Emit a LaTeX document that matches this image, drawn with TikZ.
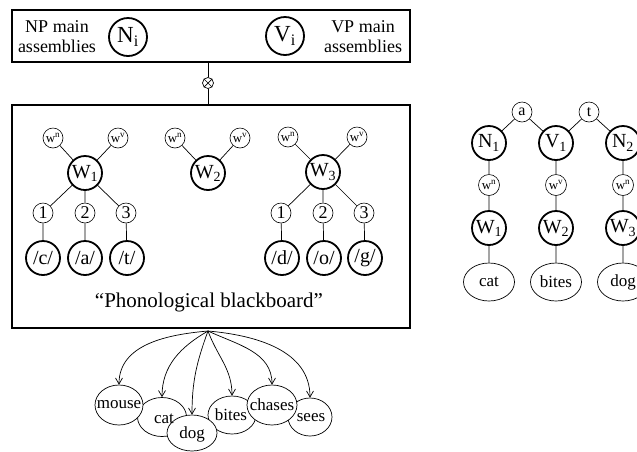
\documentclass[tikz,border=0pt]{standalone}
\usepackage{fontspec}
\setmainfont{Liberation Serif}
\usetikzlibrary{shapes.geometric,arrows.meta}
\tikzset{
  bigc/.style={circle,draw,line width=1.8pt,minimum size=34pt,inner sep=0pt,font=\fontsize{20}{20}\selectfont},
  mainc/.style={circle,draw,line width=1.8pt,minimum size=38pt,inner sep=0pt,font=\fontsize{23}{23}\selectfont},
  smc/.style={circle,draw,line width=0.6pt,minimum size=20pt,inner sep=0pt,font=\fontsize{13}{13}\selectfont},
  numc/.style={circle,draw,line width=0.6pt,minimum size=20pt,inner sep=0pt,font=\fontsize{18}{18}\selectfont},
  wordell/.style={ellipse,draw,fill=white,line width=0.7pt,minimum width=49pt,minimum height=39pt,inner sep=0pt},
  wtxt/.style={inner sep=0pt,font=\fontsize{17}{17}\selectfont},
  lab/.style={align=center,font=\fontsize{18}{20}\selectfont,inner sep=0pt},
  con/.style={line width=0.7pt},
  boxl/.style={draw,line width=1.2pt},
  arr/.style={line width=0.7pt,-{Straight Barb[length=6pt,width=7pt]}}
}
\begin{document}
\begin{tikzpicture}[x=1pt,y=-1pt]
\useasboundingbox (0,0) rectangle (637,451);
% top box
\draw[boxl] (12,10) rectangle (410,62);
\node[lab] (np) at (57,37) {NP main\\assemblies};
\node[mainc] (Ni) at (128,37) {N\textsubscript{i}};
\node[mainc] (Vi) at (285,36) {V\textsubscript{i}};
\node[lab] (vp) at (363,37) {VP main\\assemblies};
% lower box
\draw[boxl] (12,105) rectangle (410,328);
\coordinate (tb) at (208,62);
\coordinate (lb) at (208,105);
\node[circle,draw,line width=0.7pt,minimum size=11pt,inner sep=0pt] (ox) at (208,83) {};
\draw[line width=0.7pt] (ox.45) -- (ox.225) (ox.135) -- (ox.315);
\draw[line width=1pt] (tb) -- (ox) -- (lb);
% W1 group
\node[smc] (n1) at (53,138) {w\textsuperscript{n}};
\node[smc] (v1) at (118,138) {w\textsuperscript{v}};
\node[bigc] (W1) at (85,173) {W\textsubscript{1}};
\node[numc] (a1) at (43,213) {1};
\node[numc] (a2) at (85,213) {2};
\node[numc] (a3) at (126,213) {3};
\node[bigc] (pc) at (43,258) {/c/};
\node[bigc] (pa) at (85,258) {/a/};
\node[bigc] (pt) at (127,258) {/t/};
\draw[con] (n1) -- (W1) (v1) -- (W1) (W1) -- (a1) (W1) -- (a2) (W1) -- (a3)
  (a1) -- (pc) (a2) -- (pa) (a3) -- (pt);
% W2 group
\node[smc] (n2) at (175,138) {w\textsuperscript{n}};
\node[smc] (v2) at (240,138) {w\textsuperscript{v}};
\node[bigc] (W2) at (208,173) {W\textsubscript{2}};
\draw[con] (n2) -- (W2) (v2) -- (W2);
% W3 group
\node[smc] (n3) at (288,137) {w\textsuperscript{n}};
\node[smc] (v3) at (357,137) {w\textsuperscript{v}};
\node[bigc] (W3) at (323,172) {W\textsubscript{3}};
\node[numc] (b1) at (281,213) {1};
\node[numc] (b2) at (323,213) {2};
\node[numc] (b3) at (364,213) {3};
\node[bigc] (pd) at (282,258) {/d/};
\node[bigc] (po) at (324,258) {/o/};
\node[bigc] (pg) at (365,258) {/g/};
\draw[con] (n3) -- (W3) (v3) -- (W3) (W3) -- (b1) (W3) -- (b2) (W3) -- (b3)
  (b1) -- (pd) (b2) -- (po) (b3) -- (pg);
\node[font=\fontsize{21}{21}\selectfont,inner sep=0pt] (pb) at (209,302) {“Phonological blackboard”};
% word ellipses
\node[wordell] (cat) at (162,417) {};
\node[wordell,minimum width=48pt,minimum height=38pt] (bites) at (232,415) {};
\node[wordell,minimum width=44pt,minimum height=38pt] (sees) at (310,417) {};
\node[wordell,minimum width=50pt,minimum height=36pt] (dog) at (192,433) {};
\node[wordell,minimum width=48pt,minimum height=40pt] (mouse) at (119,405) {};
\node[wordell,minimum width=50pt,minimum height=40pt] (chases) at (272,405) {};
\node[wtxt] (tcat) at (164,419) {cat};
\node[wtxt] (tbites) at (231,415) {bites};
\node[wtxt] (tsees) at (311,418) {sees};
\node[wtxt] (tdog) at (192,434) {dog};
\node[wtxt] (tmouse) at (119,405) {mouse};
\node[wtxt] (tchases) at (272,405) {chases};
\coordinate (src) at (208,331);
\draw[arr] (src) to[out=185,in=90] (mouse.north);
\draw[arr] (src) to[out=210,in=90] (cat.north);
\draw[arr] (src) to[out=250,in=90] (dog.north);
\draw[arr] (src) to[out=290,in=90] (bites.north);
\draw[arr] (src) to[out=335,in=90] (chases.north);
\draw[arr] (src) to[out=355,in=90] (sees.north);
% right tree
\node[smc,font=\fontsize{16}{16}\selectfont] (ra) at (522,112) {a};
\node[smc,font=\fontsize{16}{16}\selectfont] (rt) at (589,112) {t};
\node[bigc] (N1) at (489,143) {N\textsubscript{1}};
\node[bigc] (V1) at (556,143) {V\textsubscript{1}};
\node[bigc] (N2) at (623,143) {N\textsubscript{2}};
\node[smc,minimum size=21pt] (rn1) at (489,185) {w\textsuperscript{n}};
\node[smc,minimum size=21pt] (rv1) at (556,185) {w\textsuperscript{v}};
\node[smc,minimum size=21pt] (rn2) at (623,185) {w\textsuperscript{n}};
\node[bigc] (RW1) at (489,228) {W\textsubscript{1}};
\node[bigc] (RW2) at (556,228) {W\textsubscript{2}};
\node[bigc] (RW3) at (623,228) {W\textsubscript{3}};
\node[wordell,minimum width=51pt,minimum height=38pt,font=\fontsize{17}{17}\selectfont] (rcat) at (489,282) {cat};
\node[wordell,minimum width=51pt,minimum height=38pt,font=\fontsize{17}{17}\selectfont] (rbites) at (556,282) {bites};
\node[wordell,minimum width=51pt,minimum height=38pt,font=\fontsize{17}{17}\selectfont] (rdog) at (623,282) {dog};
\draw[con] (ra) -- (N1) (ra) -- (V1) (rt) -- (V1) (rt) -- (N2)
  (N1) -- (rn1) -- (RW1) -- (rcat)
  (V1) -- (rv1) -- (RW2) -- (rbites)
  (N2) -- (rn2) -- (RW3) -- (rdog);
\end{tikzpicture}
\end{document}
